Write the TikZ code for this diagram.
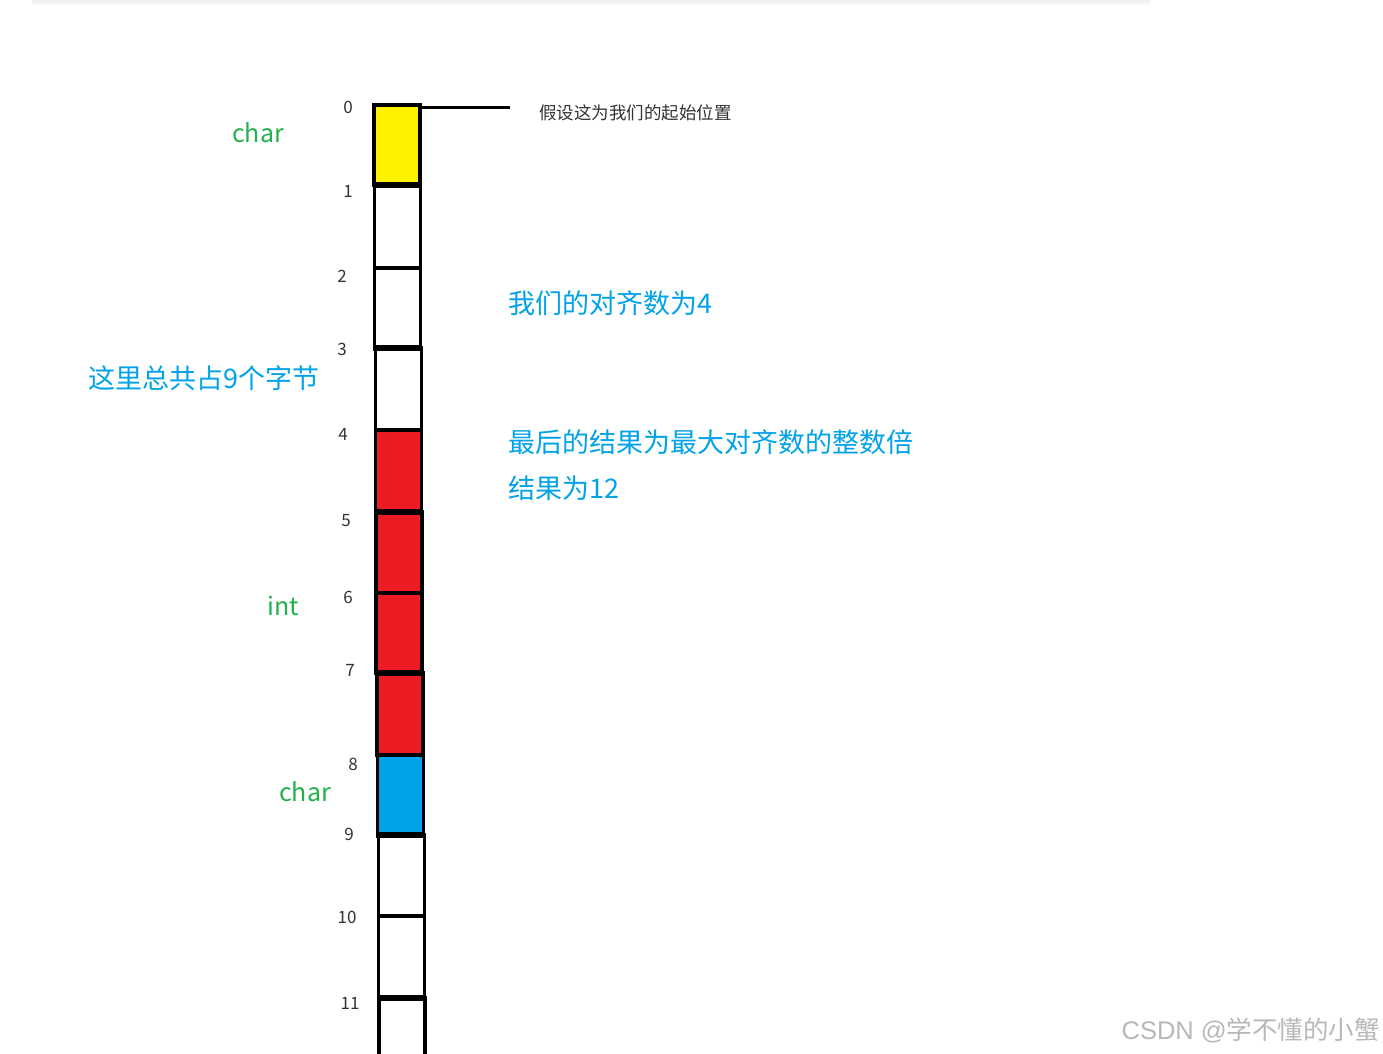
\documentclass[tikz,border=0pt]{standalone}
\usepackage{fontspec}
\newfontfamily\cjk{Noto Sans CJK SC}
\newfontfamily\lat{Liberation Sans}
\definecolor{cyel}{HTML}{FFF200}
\definecolor{cred}{HTML}{ED1C24}
\definecolor{cblu}{HTML}{00A2E8}
\definecolor{tgreen}{HTML}{22B14C}
\definecolor{tblue}{HTML}{00A2E8}
\definecolor{tnum}{HTML}{333333}
\begin{document}
\begin{tikzpicture}[x=1pt,y=-1pt,
  cell/.style={draw=black, line width=3.5pt, minimum width=46pt, inner sep=0pt, outer sep=0pt},
  sep/.style={line width=6pt},
  msep/.style={line width=4.5pt},
  num/.style={font=\cjk\fontsize{17}{17}\selectfont, text=tnum, inner sep=0pt},
  typ/.style={font=\cjk\fontsize{25}{25}\selectfont, text=tgreen, inner sep=0pt},
  note/.style={font=\cjk\fontsize{27}{27}\selectfont, text=tblue, inner sep=0pt, anchor=west},
  small/.style={font=\cjk\fontsize{17.5}{17.5}\selectfont, text=tnum, inner sep=0pt, anchor=west},
  wmark/.style={font=\fontsize{25.5}{25.5}\selectfont, text=black!28, inner sep=0pt, anchor=east}
]
\useasboundingbox (0,0) rectangle (1383,1053);
\fill[white] (0,0) rectangle (1383,1053);
\shade[top color=black!6, bottom color=white] (32,0) rectangle (1150,6);
\clip (0,0) rectangle (1383,1053);

% cells
\node[cell, fill=cyel, minimum height=80pt] (c0) at (397,145) {};
\node[cell, fill=white, minimum height=83pt] (c1) at (397.5,226.5) {};
\node[cell, fill=white, minimum height=80pt] (c2) at (397.5,308) {};
\node[cell, fill=white, minimum height=82pt] (c3) at (398.5,389) {};
\node[cell, fill=cred, minimum height=82pt] (c4) at (398.5,471) {};
\node[cell, fill=cred, minimum height=81pt] (c5) at (399,552.5) {};
\node[cell, fill=cred, minimum height=80pt] (c6) at (399,633) {};
\node[cell, fill=cred, minimum height=82pt] (c7) at (400,714) {};
\node[cell, fill=cblu, minimum height=80pt] (c8) at (400.5,795) {};
\node[cell, fill=white, minimum height=81pt] (c9) at (401.5,875.5) {};
\node[cell, fill=white, minimum height=82pt] (c10) at (401.5,957) {};
\node[cell, fill=white, minimum height=82pt] (c11) at (402,1039) {};

% heavier separators
\foreach \c in {c0,c2,c4,c6,c8,c10}
  \draw[sep] ([xshift=-1.5pt]\c.south west) -- ([xshift=1.5pt]\c.south east);
\foreach \c in {c3,c7}
  \draw[msep] ([xshift=-1.5pt]\c.south west) -- ([xshift=1.5pt]\c.south east);

% offset labels
\node[num] (n0) at (348,107) {0};
\node[num] (n1) at (348,191) {1};
\node[num] (n2) at (342,276) {2};
\node[num] (n3) at (342,349) {3};
\node[num] (n4) at (343,434) {4};
\node[num] (n5) at (346,521) {5};
\node[num] (n6) at (348,597) {6};
\node[num] (n7) at (350,670) {7};
\node[num] (n8) at (353,764) {8};
\node[num] (n9) at (349,834) {9};
\node[num] (n10) at (347,917) {10};
\node[num] (n11) at (350,1003) {11};

% type labels
\node[typ] (t0) at (258,133) {char};
\node[typ] (t1) at (283,606) {int};
\node[typ] (t2) at (305,792) {char};

% start marker
\coordinate (le) at (510,107);
\draw[line width=3pt] (c0.north east |- le) -- (le);
\node[small] (start) at (539,113) {假设这为我们的起始位置};

% notes
\node[note] (a1) at (508,303) {我们的对齐数为4};
\node[note] (a2) at (88,378) {这里总共占9个字节};
\node[note] (a3) at (508,442) {最后的结果为最大对齐数的整数倍};
\node[note] (a4) at (508,488) {结果为12};

% watermark
\node[wmark] (wm) at (1380,1030) {\lat CSDN @\cjk 学不懂的小蟹};
\end{tikzpicture}
\end{document}
